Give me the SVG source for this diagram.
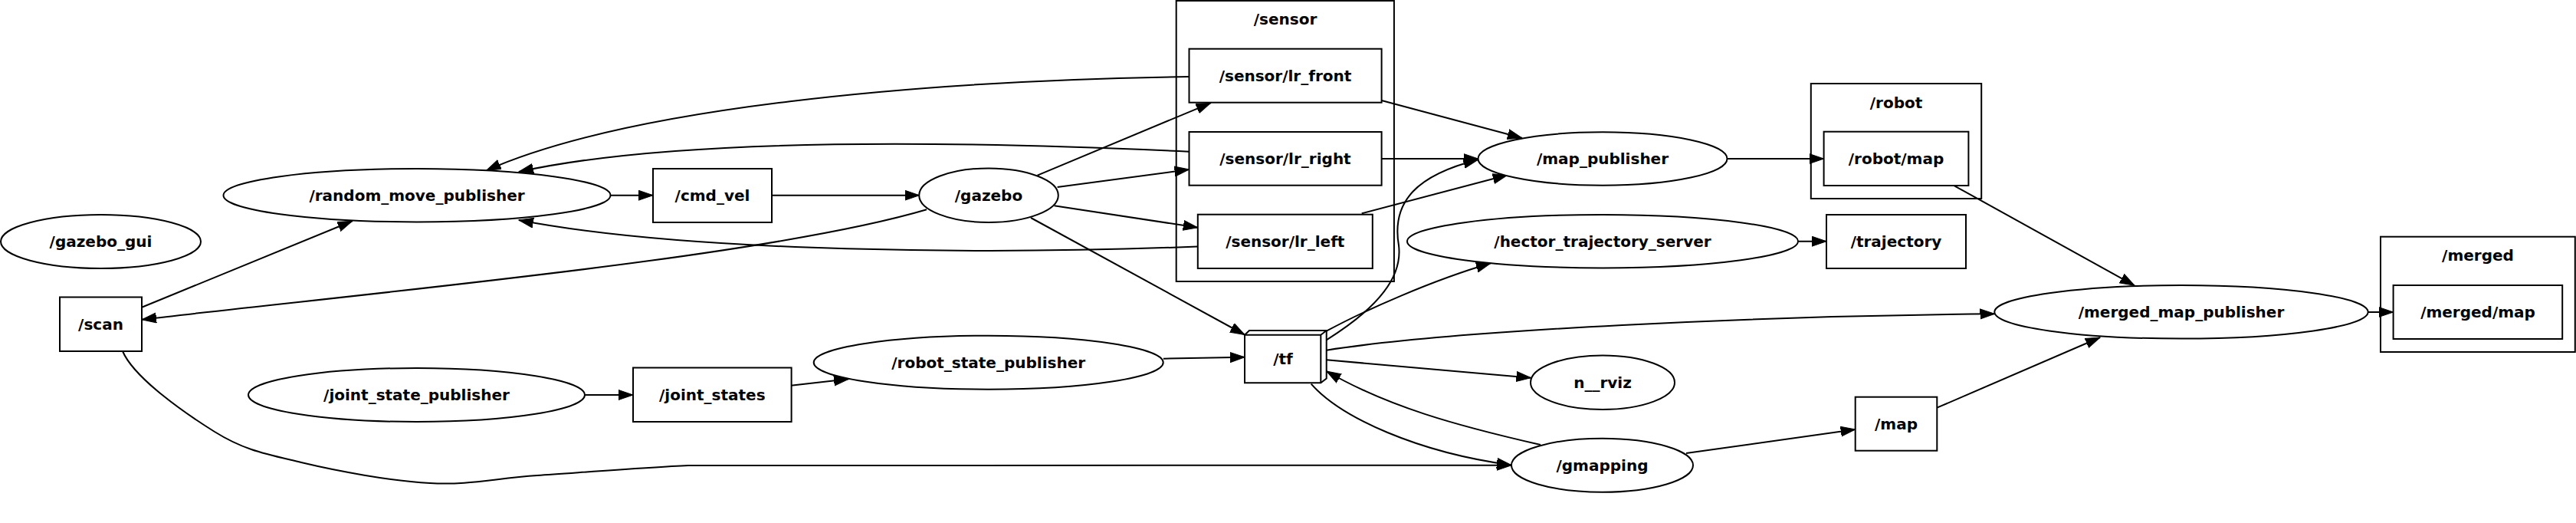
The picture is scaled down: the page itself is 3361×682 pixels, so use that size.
<svg xmlns="http://www.w3.org/2000/svg" width="3361" height="682" viewBox="0 0 3361 682">
<style>
.n{fill:#fff;stroke:#000;stroke-width:2}
.c{fill:none;stroke:#000;stroke-width:2}
.e{fill:none;stroke:#000;stroke-width:2}
text{font-family:"DejaVu Sans","Liberation Sans",sans-serif;font-weight:bold;font-size:20px;text-anchor:middle;fill:#000}
</style>
<defs>
<marker id="a" markerUnits="userSpaceOnUse" markerWidth="22" markerHeight="16" refX="19" refY="7" orient="auto" viewBox="0 0 22 16">
<path d="M0,0.5 L19,7 L0,13.5 Z" fill="#000" stroke="#000" stroke-width="1"/>
</marker>
</defs>
<rect width="3361" height="682" fill="#fff"/>
<g id="clusters">
<g id="cluster_sensor"><rect class="c" x="1534.7" y="1" width="284.2" height="366"/><text x="1677" y="32">/sensor</text></g>
<g id="cluster_robot"><rect class="c" x="2362.8" y="109" width="222.4" height="150"/><text x="2474" y="141">/robot</text></g>
<g id="cluster_merged"><rect class="c" x="3106" y="308.7" width="253.8" height="150.3"/><text x="3233" y="340">/merged</text></g>
</g>
<g id="edges">
<path class="e" marker-end="url(#a)" d="M797,254.7 L852,254.7"/>
<path class="e" marker-end="url(#a)" d="M1007,254.7 L1199.5,254.7"/>
<path class="e" marker-end="url(#a)" d="M1353.6,228.7 L1579.6,134.3"/>
<path class="e" marker-end="url(#a)" d="M1379.6,244 L1551.5,221"/>
<path class="e" marker-end="url(#a)" d="M1375.5,268.3 L1562.8,296.7"/>
<path class="e" marker-end="url(#a)" d="M1345,284 L1624,436.5"/>
<path class="e" marker-end="url(#a)" d="M1209,273.3 C1000,335 500,380 185,416.7"/>
<path class="e" marker-end="url(#a)" d="M1551.5,100 C1200,105 820,140 634.5,222.3"/>
<path class="e" marker-end="url(#a)" d="M1551.5,197.7 C1300,186 900,175 677,224"/>
<path class="e" marker-end="url(#a)" d="M1562.8,321.5 C1300,332 900,330 677,287"/>
<path class="e" marker-end="url(#a)" d="M1802.6,131 L1986,180"/>
<path class="e" marker-end="url(#a)" d="M1802.6,207 L1928.6,207"/>
<path class="e" marker-end="url(#a)" d="M1776.7,278.3 L1966.7,228.3"/>
<path class="e" marker-end="url(#a)" d="M1730.7,443.3 C1800,400 1830,360 1825,320 C1815,262 1850,228 1928.3,208.3"/>
<path class="e" marker-end="url(#a)" d="M1730.7,431.7 C1780,405 1870,365 1945,343.3"/>
<path class="e" marker-end="url(#a)" d="M1730.7,456.7 C1900,430 2300,412 2602.5,409.3"/>
<path class="e" marker-end="url(#a)" d="M1730.7,469.3 L1997.5,492.7"/>
<path class="e" marker-end="url(#a)" d="M1710.7,500.7 C1750,545 1850,590 1972,606.5"/>
<path class="e" marker-end="url(#a)" d="M2010,580 C1900,555 1810,530 1730.7,484"/>
<path class="e" marker-end="url(#a)" d="M1517.8,467.7 L1624,465.7"/>
<path class="e" marker-end="url(#a)" d="M763,515 L826,515"/>
<path class="e" marker-end="url(#a)" d="M1032,502.7 L1107,494.3"/>
<path class="e" marker-end="url(#a)" d="M185,400.7 L459.6,288.3"/>
<path class="e" marker-end="url(#a)" d="M160,458 C175,493 241.2,538.8 280,563 C318.8,587.2 346.2,591.8 393,603 C439.8,614.2 509.7,627.2 561,630 C612.3,632.8 644.8,623.8 701,620 C757.2,616.2 848.2,609.2 898,607 L1972,606.7"/>
<path class="e" marker-end="url(#a)" d="M2200,591 L2420.7,560"/>
<path class="e" marker-end="url(#a)" d="M2527.3,531.7 L2740,440"/>
<path class="e" marker-end="url(#a)" d="M2550,242.3 L2785,372.3"/>
<path class="e" marker-end="url(#a)" d="M2253.6,207 L2379.6,207"/>
<path class="e" marker-end="url(#a)" d="M2346,314.7 L2383,314.7"/>
<path class="e" marker-end="url(#a)" d="M3089.5,407 L3122.6,407"/>
</g>
<g id="gazebo_gui"><ellipse class="n" cx="131.5" cy="315" rx="130.5" ry="35"/><text x="131.5" y="322">/gazebo_gui</text></g>
<g id="scan"><rect class="n" x="78" y="387.5" width="107" height="70.5"/><text x="131.5" y="430">/scan</text></g>
<g id="random_move_publisher"><ellipse class="n" cx="544" cy="254.7" rx="252.5" ry="34.7"/><text x="544" y="262">/random_move_publisher</text></g>
<g id="cmd_vel"><rect class="n" x="852" y="220" width="155" height="70"/><text x="929.5" y="262">/cmd_vel</text></g>
<g id="gazebo"><ellipse class="n" cx="1290" cy="254.7" rx="90.8" ry="35.3"/><text x="1290" y="262">/gazebo</text></g>
<g id="sensor_lr_front"><rect class="n" x="1551.5" y="63.7" width="251.1" height="70"/><text x="1677" y="106">/sensor/lr_front</text></g>
<g id="sensor_lr_right"><rect class="n" x="1551.5" y="172" width="251.1" height="69.7"/><text x="1677" y="214">/sensor/lr_right</text></g>
<g id="sensor_lr_left"><rect class="n" x="1562.8" y="279.7" width="228" height="70.3"/><text x="1676.8" y="322">/sensor/lr_left</text></g>
<g id="joint_state_publisher"><ellipse class="n" cx="543.5" cy="515" rx="219.5" ry="35"/><text x="543.5" y="522">/joint_state_publisher</text></g>
<g id="joint_states"><rect class="n" x="826" y="479.5" width="206.6" height="70.5"/><text x="929.3" y="522">/joint_states</text></g>
<g id="robot_state_publisher"><ellipse class="n" cx="1289.7" cy="472.7" rx="228" ry="35"/><text x="1289.7" y="480">/robot_state_publisher</text></g>
<g id="tf"><path class="n" d="M1624,436.7 L1630,431 L1730.7,431 L1730.7,493.5 L1723.3,499.3 L1624,499.3 Z"/><path class="c" d="M1624,436.7 L1723.3,436.7 L1723.3,499.3 M1723.3,436.7 L1730.7,431"/><text x="1674" y="475">/tf</text></g>
<g id="map_publisher"><ellipse class="n" cx="2091" cy="207" rx="162.5" ry="34.7"/><text x="2091" y="214">/map_publisher</text></g>
<g id="hector_trajectory_server"><ellipse class="n" cx="2091" cy="314.7" rx="255" ry="34.7"/><text x="2091" y="322">/hector_trajectory_server</text></g>
<g id="n__rviz"><ellipse class="n" cx="2091" cy="498.7" rx="94" ry="35.3"/><text x="2091" y="506">n__rviz</text></g>
<g id="gmapping"><ellipse class="n" cx="2090.5" cy="606.7" rx="118.5" ry="35"/><text x="2090.5" y="614">/gmapping</text></g>
<g id="robot_map"><rect class="n" x="2379.6" y="171.7" width="188.8" height="70.3"/><text x="2474" y="214">/robot/map</text></g>
<g id="trajectory"><rect class="n" x="2383" y="280" width="182" height="70"/><text x="2474" y="322">/trajectory</text></g>
<g id="map"><rect class="n" x="2420.7" y="517.7" width="106.6" height="70"/><text x="2474" y="560">/map</text></g>
<g id="merged_map_publisher"><ellipse class="n" cx="2846" cy="406.8" rx="243.7" ry="34.8"/><text x="2846" y="414">/merged_map_publisher</text></g>
<g id="merged_map"><rect class="n" x="3122.6" y="372" width="220.6" height="70"/><text x="3233" y="414">/merged/map</text></g>
</svg>
